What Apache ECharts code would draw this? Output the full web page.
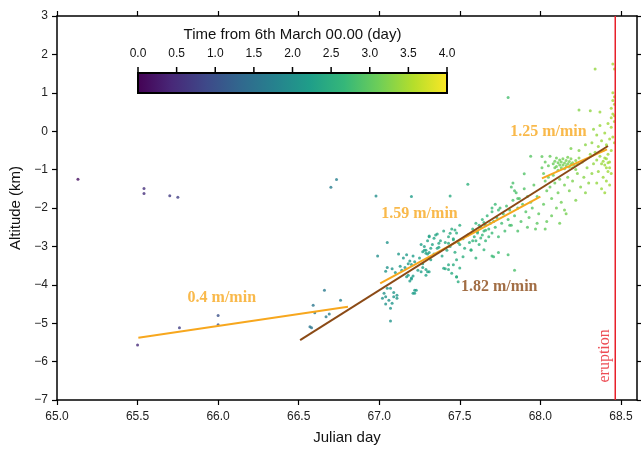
<!DOCTYPE html>
<html>
<head>
<meta charset="utf-8">
<script src="https://cdn.jsdelivr.net/npm/echarts@6/dist/echarts.min.js"></script>
<style>html,body{margin:0;padding:0;background:#fff}#c{width:641px;height:450px}</style>
</head>
<body>
<div id="c"></div>
<script>
// ---- DATA ----
const xTicks = [65.0, 65.5, 66.0, 66.5, 67.0, 67.5, 68.0, 68.5];
const yTicks = [-7, -6, -5, -4, -3, -2, -1, 0, 1, 2, 3];
const colorbarTicks = [0.0, 0.5, 1.0, 1.5, 2.0, 2.5, 3.0, 3.5, 4.0];
const timeOrigin = 65.0; // Julian day of 6th March 00.00
const eruptionDay = 68.465;

// hypocentres: [julian day, altitude km]
const quakes = [
  [65.13,-1.25],[65.54,-1.49],[65.54,-1.62],[65.70,-1.68],[65.75,-1.72],
  [65.50,-5.57],[65.76,-5.12],[66.00,-4.80],[66.00,-5.04],
  [66.735,-1.26],[66.70,-1.46],[66.66,-4.14],[66.76,-4.40],[66.59,-4.53],[66.60,-4.73],
  [66.69,-4.76],[66.67,-4.83],[66.57,-5.09],[66.58,-5.12],
  [66.98,-1.69],[67.20,-1.70],[67.44,-1.69],[67.05,-2.90],[66.99,-3.25],[67.12,-3.20],[67.15,-3.30],
  [67.17,-3.22],[67.19,-3.38],[67.21,-3.25],[67.22,-3.40],[67.18,-3.45],[67.20,-3.47],
  [67.05,-3.55],[67.04,-3.65],[67.08,-3.58],[67.13,-3.52],[67.10,-3.68],[67.14,-3.62],[67.16,-3.55],
  [67.18,-3.75],[67.21,-3.77],[67.20,-3.85],[67.24,-3.62],[67.27,-3.55],
  [67.05,-4.09],[67.07,-4.09],[67.03,-4.22],[67.04,-4.31],[67.06,-4.40],[67.09,-4.31],[67.11,-4.35],
  [67.08,-4.48],[67.04,-4.50],[67.11,-4.27],[67.22,-4.14],[67.21,-4.22],[67.07,-4.61],[67.07,-4.94],
  [67.02,-4.35],[67.09,-4.20],[67.23,-4.14],[67.22,-4.22],
  [67.27,-3.14],[67.29,-3.18],[67.31,-3.16],[67.32,-3.05],[67.31,-3.30],[67.36,-2.68],[67.34,-2.79],
  [67.31,-2.75],[67.37,-2.92],[67.37,-3.02],[67.44,-2.66],[67.47,-2.57],[67.46,-2.83],[67.43,-2.92],
  [67.40,-3.57],[67.43,-3.48],[67.46,-3.48],[67.30,-3.66],[67.26,-3.66],[67.17,-3.79],[67.20,-3.82],
  [67.19,-3.90],[67.31,-2.73],[67.28,-3.00],[67.29,-3.10],[67.30,-3.20],
  [67.50,-3.56],[67.48,-3.79],[67.49,-3.92],[67.45,-3.70],[67.43,-3.60],[67.41,-3.58],
  [67.31,-3.66],[67.29,-3.75],
  [67.25,-3.30],[67.26,-2.95],[67.27,-3.45],[67.28,-3.10],[67.29,-3.60],[67.30,-2.85],[67.32,-3.35],
  [67.33,-2.95],[67.34,-3.20],[67.35,-2.70],[67.36,-3.05],[67.38,-2.85],[67.39,-3.25],[67.40,-2.60],
  [67.41,-2.90],[67.42,-3.10],[67.43,-2.75],[67.44,-3.00],[67.45,-2.55],[67.46,-2.80],[67.47,-3.15],
  [67.48,-2.65],[67.49,-2.90],[67.50,-2.45],
  [67.50,-2.95],[67.52,-2.80],[67.53,-3.05],[67.55,-2.70],[67.56,-2.90],[67.57,-3.10],[67.58,-2.55],
  [67.59,-2.75],[67.60,-2.85],[67.60,-2.40],[67.61,-2.65],[67.62,-2.95],[67.63,-2.50],[67.63,-2.78],
  [67.64,-2.30],[67.65,-2.60],[67.66,-2.45],[67.66,-2.85],[67.67,-2.20],[67.68,-2.55],[67.69,-2.40],
  [67.70,-2.65],[67.70,-2.10],[67.71,-2.35],[67.72,-2.50],[67.73,-2.25],[67.74,-2.75],[67.75,-2.00],
  [67.76,-2.40],[67.77,-2.15],[67.78,-2.60],[67.79,-1.95],[67.80,-2.30],[67.81,-2.05],[67.82,-2.45],
  [67.83,-1.80],[67.84,-2.20],[67.85,-1.60],[67.86,-2.00],[67.87,-1.75],[67.88,-2.35],[67.89,-1.90],
  [67.90,-1.50],[67.91,-2.10],[67.92,-1.70],[67.93,-2.25],[67.94,-1.85],[67.95,-2.00],[67.96,-1.40],
  [67.97,-2.55],[67.98,-1.70],[67.99,-2.15],
  [67.61,-2.62],[67.64,-2.70],[67.66,-2.58],[67.68,-2.75],[67.62,-2.45],[67.65,-2.38],[67.58,-2.85],
  [67.55,-1.38],[67.80,0.88],[67.74,-3.16],[67.84,-3.62],[67.48,-3.80],[67.90,-1.11],[67.94,-0.65],
  [68.01,-0.66],[67.70,-3.25],[67.60,-3.30],[67.71,-3.27],[67.80,-3.22],[67.65,-3.09],[67.57,-3.09],
  [67.52,-3.27],[67.48,-3.35],[67.81,-2.45],[67.86,-2.60],[67.92,-2.50],[67.98,-2.40],[68.03,-2.55],
  [67.83,-1.35],[67.84,-1.55],[67.86,-1.75],[67.82,-1.45],[67.72,-1.90],[67.70,-2.00],[67.74,-2.05],
  [68.08,-0.85],[68.09,-0.78],[68.10,-0.92],[68.10,-0.70],[68.11,-0.82],[68.12,-0.88],[68.12,-0.75],
  [68.13,-0.95],[68.13,-0.80],[68.14,-0.72],[68.14,-0.88],[68.15,-0.83],[68.15,-0.98],[68.16,-0.76],
  [68.16,-0.90],[68.17,-0.85],[68.17,-0.68],[68.18,-0.93],[68.18,-0.79],[68.19,-0.86],[68.19,-0.72],
  [68.20,-0.95],[68.20,-0.82],[68.21,-0.88],[68.22,-0.76],[68.22,-1.00],[68.23,-0.85],[68.24,-0.70],
  [68.11,-1.02],[68.09,-0.95],
  [68.01,-0.95],[68.02,-1.10],[68.03,-0.80],[68.03,-1.30],[68.04,-1.55],[68.05,-0.90],[68.05,-1.20],
  [68.06,-1.45],[68.06,-0.65],[68.07,-1.75],[68.08,-1.15],[68.09,-1.35],[68.10,-2.00],[68.11,-1.60],
  [68.12,-1.25],[68.13,-1.85],[68.15,-1.40],[68.16,-2.15],[68.17,-1.20],[68.18,-1.55],[68.19,-0.45],
  [68.20,-1.30],[68.22,-1.80],[68.23,-1.10],[68.24,-0.50],[68.25,-1.45],[68.26,-0.80],[68.27,-1.20],
  [68.28,-0.35],[68.28,-1.60],[68.29,-0.95],[68.30,-1.35],[68.24,0.55],[68.31,0.53],[68.12,-2.40],
  [68.07,-2.20],[68.02,-1.90],[68.04,-2.35],[68.15,-2.05],
  [68.31,-0.60],[68.32,-0.30],[68.33,-0.85],[68.33,0.05],[68.34,-0.55],[68.34,1.62],[68.35,-0.75],
  [68.35,-0.10],[68.36,-0.40],[68.36,-1.05],[68.37,-0.65],[68.37,0.15],[68.38,-0.85],[68.38,-0.25],
  [68.39,-0.50],[68.39,-1.20],[68.40,-0.70],[68.40,-0.05],[68.41,-0.95],[68.41,-0.35],[68.42,-0.60],
  [68.42,0.20],[68.43,-0.80],[68.43,-0.20],[68.44,-1.10],[68.44,0.35],[68.44,0.60],[68.45,0.45],
  [68.45,0.80],[68.45,1.00],[68.46,0.70],[68.46,0.40],[68.46,0.90],[68.45,1.75],[68.46,1.62],
  [68.44,0.10],[68.45,-0.15],[68.46,0.25],[68.43,-1.40],[68.41,-1.30],[68.38,-1.50],[68.35,-1.35],
  [68.40,-1.60],[68.32,-1.10],[68.37,0.50],[68.42,-1.05],[68.44,-0.50],[68.46,-0.30],
  [68.39,-0.78],[68.40,-0.88],[68.41,-0.72],[68.42,-0.82],[68.43,-0.95]
];

// fitted trends: [start, end] in [julian day, altitude km]
const fitEarly   = [[65.505,-5.378],[66.806,-4.570]];   // 0.4 m/min
const fitMid     = [[67.006,-3.96],[68.00,-1.705]];     // 1.59 m/min
const fitLate    = [[68.01,-1.227],[68.414,-0.472]];    // 1.25 m/min
const fitOverall = [[66.509,-5.44],[68.42,-0.385]];     // 1.82 m/min
const rateLabels = ['0.4 m/min','1.59 m/min','1.25 m/min','1.82 m/min'];
const rateLabelAnchors = [[66.023,-4.336],[67.25,-2.14],[68.05,-0.013],[67.745,-4.057]];

// ---- CHART ----
const viridis = ['#440154','#482878','#3e4989','#31688e','#26828e','#1f9e89','#35b779','#6ece58','#b5de2b','#fde725'];
const orange = '#f7a71e', brown = '#8b4a16', red = '#e8202a';
const chart = echarts.init(document.getElementById('c'), null, {renderer:'canvas'});
const fmtY = v => v < 0 ? '\u2212' + Math.abs(v) : String(v);

const cbX0 = 138, cbX1 = 447, cbY = 73, cbH = 20;
const cbGraphics = [
  {type:'rect', shape:{x:cbX0, y:cbY, width:cbX1-cbX0, height:cbH}, style:{
    fill:new echarts.graphic.LinearGradient(0,0,1,0, viridis.map((c,i)=>({offset:i/(viridis.length-1), color:c}))),
    stroke:'#000', lineWidth:2}, z:100},
  {type:'text', x:(cbX0+cbX1)/2, y:35, style:{text:'Time from 6th March 00.00 (day)', font:'15px "Liberation Sans", Arial, sans-serif', fill:'#111', align:'center', verticalAlign:'middle'}, z:100}
];
colorbarTicks.forEach((t,i)=>{
  const x = cbX0 + (cbX1-cbX0)*(t - colorbarTicks[0])/(colorbarTicks[colorbarTicks.length-1]-colorbarTicks[0]);
  cbGraphics.push({type:'line', shape:{x1:x, y1:cbY-6, x2:x, y2:cbY}, style:{stroke:'#000', lineWidth:1.5}, z:100});
  cbGraphics.push({type:'text', x:x, y:54, style:{text:t.toFixed(1), font:'12px "Liberation Sans", Arial, sans-serif', fill:'#111', align:'center', verticalAlign:'middle'}, z:100});
});

const labelColors = [orange, orange, orange, brown];

chart.setOption({
  animation:false,
  backgroundColor:'#fff',
  grid:{left:57, top:16, right:4, bottom:50, show:false, containLabel:false, outerBoundsMode:'none'},
  xAxis:[{
    type:'value', min:65, max:68.6, interval:0.5, position:'bottom',
    name:'Julian day', nameLocation:'middle', nameGap:30,
    nameTextStyle:{fontSize:15, color:'#111', fontFamily:'Liberation Sans'},
    axisLine:{show:true, onZero:false, lineStyle:{color:'#000', width:1.5}},
    axisTick:{show:true, length:5, lineStyle:{color:'#000', width:1.2},
      customValues: xTicks},
    axisLabel:{fontSize:12, color:'#222', fontFamily:'Liberation Sans', margin:11,
      customValues: xTicks, formatter:v=>v.toFixed(1)},
    splitLine:{show:false}
  },{
    type:'value', min:65, max:68.6, interval:0.5, position:'top',
    axisLine:{show:true, onZero:false, lineStyle:{color:'#000', width:1.5}},
    axisTick:{show:true, length:5, customValues:xTicks, lineStyle:{color:'#000', width:1.2}},
    axisLabel:{show:false}, splitLine:{show:false}
  }],
  yAxis:[{
    type:'value', min:-7, max:3, interval:1, position:'left',
    name:'Altitude (km)', nameLocation:'middle', nameGap:33, nameRotate:90,
    nameTextStyle:{fontSize:15, color:'#111', fontFamily:'Liberation Sans'},
    axisLine:{show:true, onZero:false, lineStyle:{color:'#000', width:1.5}},
    axisTick:{show:true, length:5, lineStyle:{color:'#000', width:1.2}},
    axisLabel:{fontSize:12, color:'#222', fontFamily:'Liberation Sans', margin:9, formatter:fmtY},
    splitLine:{show:false}
  },{
    type:'value', min:-7, max:3, interval:1, position:'right',
    axisLine:{show:true, onZero:false, lineStyle:{color:'#000', width:1.5}},
    axisTick:{show:true, length:5, lineStyle:{color:'#000', width:1.2}},
    axisLabel:{show:false}, splitLine:{show:false}
  }],
  visualMap:{
    show:false, type:'continuous', seriesIndex:0, dimension:2,
    min:colorbarTicks[0], max:colorbarTicks[colorbarTicks.length-1],
    inRange:{color:viridis}
  },
  series:[
    {type:'scatter', symbolSize:3, z:3,
     data: quakes.map(q=>[q[0], q[1], q[0]-timeOrigin])},
    {type:'line', data:fitEarly, symbol:'none', lineStyle:{color:orange, width:2}, z:4},
    {type:'line', data:fitMid, symbol:'none', lineStyle:{color:orange, width:2}, z:4},
    {type:'line', data:fitLate, symbol:'none', lineStyle:{color:orange, width:2}, z:4},
    {type:'line', data:fitOverall, symbol:'none', lineStyle:{color:brown, width:2}, z:5},
    {type:'line', data:[[eruptionDay,-7],[eruptionDay,3]], symbol:'none', lineStyle:{color:red, width:1.5}, z:6},
    {type:'scatter', symbolSize:0, z:7, silent:true,
     data: rateLabelAnchors.map((p,i)=>({value:p, label:{show:true, position:'inside', formatter:rateLabels[i],
       color:labelColors[i], fontSize:16, fontWeight:'bold', fontFamily:'"Liberation Serif", "Times New Roman", serif'}}))},
    {type:'scatter', symbolSize:0, z:7, silent:true,
     data:[{value:[eruptionDay-0.065,-5.85], label:{show:true, position:'inside', formatter:'eruption', rotate:90,
       color:red, fontSize:16, fontFamily:'"Liberation Serif", "Times New Roman", serif'}}]}
  ],
  graphic: cbGraphics
});
</script>
</body>
</html>
